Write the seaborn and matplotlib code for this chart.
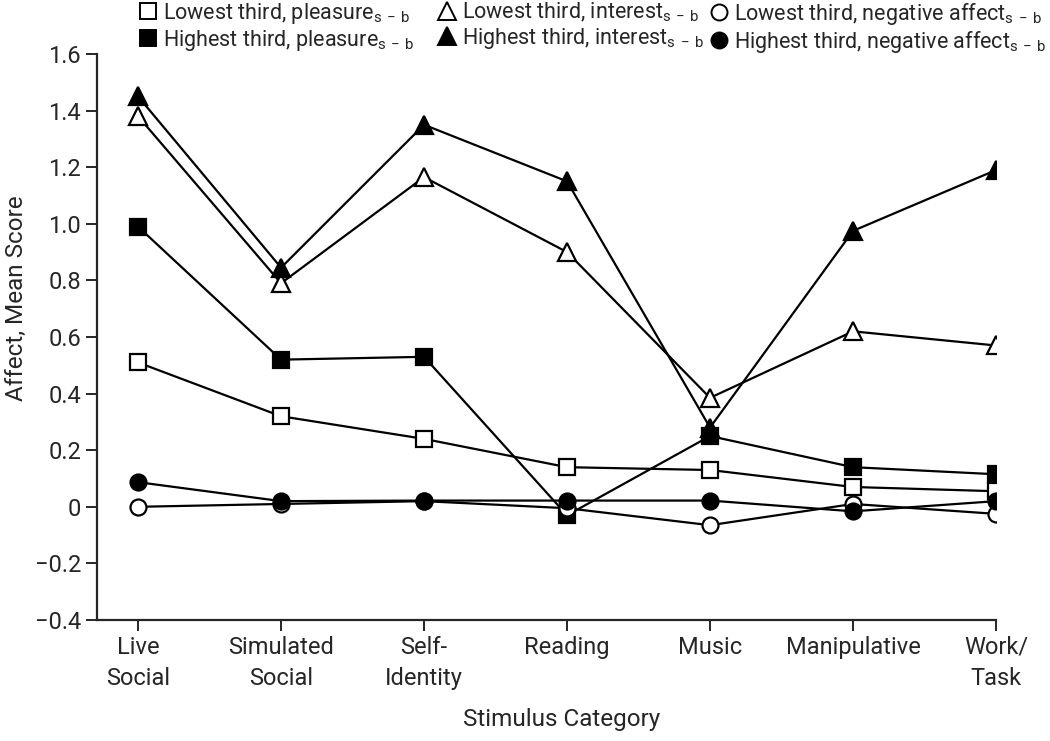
import numpy as np
import pandas as pd
import seaborn as sns
from matplotlib import pyplot as plt
from matplotlib.lines import Line2D
from matplotlib.ticker import FuncFormatter

# stimulus categories (x axis)
categories = ["Live\nSocial", "Simulated\nSocial", "Self-\nIdentity", "Reading",
              "Music", "Manipulative", "Work/\nTask"]

# mean affect scores
low_pleasure = [0.51, 0.32, 0.24, 0.14, 0.13, 0.07, 0.055]
high_pleasure = [0.99, 0.52, 0.53, -0.03, 0.25, 0.14, 0.115]
low_interest = [1.38, 0.79, 1.165, 0.90, 0.385, 0.62, 0.57]
high_interest = [1.45, 0.845, 1.35, 1.15, 0.28, 0.975, 1.19]
low_negative = [0.0, 0.01, 0.02, -0.005, -0.065, 0.01, -0.025]
high_negative = [0.087, 0.02, 0.022, 0.022, 0.022, -0.016, 0.02]

sub = r"$_{\mathrm{s\,-\,b}}$"
series = [
    ("Lowest third, pleasure" + sub, low_pleasure, "s", "white"),
    ("Highest third, pleasure" + sub, high_pleasure, "s", "black"),
    ("Lowest third, interest" + sub, low_interest, "^", "white"),
    ("Highest third, interest" + sub, high_interest, "^", "black"),
    ("Lowest third, negative affect" + sub, low_negative, "o", "white"),
    ("Highest third, negative affect" + sub, high_negative, "o", "black"),
]

sns.set_style("ticks")
plt.rcParams['font.family'] = ['Roboto', 'DejaVu Sans']
plt.rcParams['mathtext.fontset'] = 'custom'
plt.rcParams['mathtext.rm'] = 'Roboto'

fig = plt.figure(figsize=(10.5, 7.41), dpi=100)
ax = fig.add_axes([0.0924, 0.1633, 0.8562, 0.7638])

x = np.arange(len(categories))
handles = []
for label, vals, mk, fc in series:
    df = pd.DataFrame({"x": x, "y": vals})
    ms = 13.5 if mk == "^" else 11.5
    sns.lineplot(data=df, x="x", y="y", ax=ax, color="black", lw=1.6,
                 marker=mk, markersize=ms, markerfacecolor=fc,
                 markeredgecolor="black", markeredgewidth=1.6, sort=False)
    handles.append(Line2D([], [], ls="none", marker=mk, markersize=ms,
                          markerfacecolor=fc, markeredgecolor="black",
                          markeredgewidth=1.4, label=label))

ax.set_xlim(-0.287, 6)
ax.set_ylim(-0.4, 1.6)
ax.set_xticks(x)
ax.set_xticklabels(categories, va="top", linespacing=1.45)
ax.set_yticks(np.arange(-0.4, 1.61, 0.2))
ax.yaxis.set_major_formatter(FuncFormatter(
    lambda v, p: "0" if abs(v) < 1e-9 else f"{v:.1f}".replace("-", "\u2212")))
ax.tick_params(axis="both", labelsize=17, length=8, width=1.4, direction="out")
for s in ["top", "right"]:
    ax.spines[s].set_visible(False)
for s in ["left", "bottom"]:
    ax.spines[s].set_linewidth(1.6)

ax.set_xlabel("Stimulus Category", fontsize=17.5)
ax.set_ylabel("Affect, Mean Score", fontsize=17.5)
ax.xaxis.set_label_coords(0.517, -0.156)
ax.yaxis.set_label_coords(-0.077, 0.569)

# three two-row legend columns across the top
col_x = [135, 434, 706]
for i, cx in enumerate(col_x):
    leg = fig.legend(handles=handles[2 * i:2 * i + 2], loc="upper left",
                     bbox_to_anchor=(cx / 1050, 1.002), frameon=False,
                     fontsize=15.5, handletextpad=0.2, handlelength=1.0,
                     labelspacing=0.1, borderaxespad=0, borderpad=0.1)

fig.savefig("out.png", dpi=100)
